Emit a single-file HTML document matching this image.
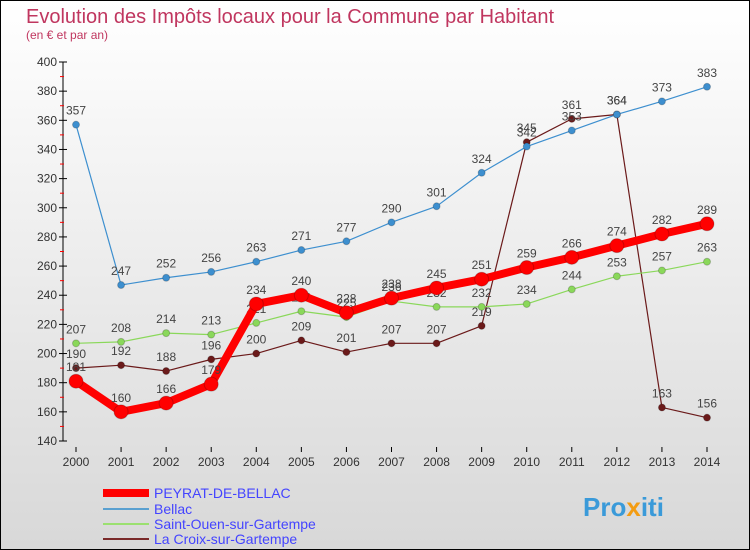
<!DOCTYPE html>
<html><head><meta charset="utf-8"><style>
body{margin:0}
#c{position:relative;width:748px;height:548px;border:1px solid #000;background:linear-gradient(#fff,#d8d8d8);font-family:"Liberation Sans",sans-serif;overflow:hidden}
</style></head><body>
<div id="c">
<svg id="s" width="748" height="548" xmlns="http://www.w3.org/2000/svg">
<text x="25" y="22" font-size="20" fill="#c0365f">Evolution des Impôts locaux pour la Commune par Habitant</text>
<text x="25" y="38" font-size="12" fill="#c0365f">(en € et par an)</text>
<g id="axes"></g><g id="series"></g>
<g>
<line x1="102" y1="492" x2="148" y2="492" stroke="#f00" stroke-width="8"/>
<text x="153" y="497" font-size="14" fill="#44f">PEYRAT-DE-BELLAC</text>
<line x1="102" y1="508" x2="148" y2="508" stroke="#5aa0d0" stroke-width="2"/>
<text x="153" y="513" font-size="14" fill="#44f">Bellac</text>
<line x1="102" y1="523" x2="148" y2="523" stroke="#9be070" stroke-width="2"/>
<text x="153" y="528" font-size="14" fill="#44f">Saint-Ouen-sur-Gartempe</text>
<line x1="102" y1="538" x2="148" y2="538" stroke="#7a2a2a" stroke-width="2"/>
<text x="153" y="543" font-size="14" fill="#44f">La Croix-sur-Gartempe</text>
</g>
<text x="582" y="515" font-size="26" font-weight="bold" fill="#3a9ad9">Pro<tspan fill="#f39c12">x</tspan>iti</text>
</svg>
</div>
<script>
const years=[2000,2001,2002,2003,2004,2005,2006,2007,2008,2009,2010,2011,2012,2013,2014];
const yTicks=[140,160,180,200,220,240,260,280,300,320,340,360,380,400];
const peyrat=[181,160,166,179,234,240,228,238,245,251,259,266,274,282,289];
const bellac=[357,247,252,256,263,271,277,290,301,324,342,353,364,373,383];
const saintOuen=[207,208,214,213,221,229,225,236,232,232,234,244,253,257,263];
const laCroix=[190,192,188,196,200,209,201,207,207,219,345,361,364,163,156];
const NS="http://www.w3.org/2000/svg";
const X=i=>75+i*(706-75)/(years.length-1);
const Y=v=>440-(v-140)*(440-61)/260;
function mk(t,a,p){const e=document.createElementNS(NS,t);for(const k in a)e.setAttribute(k,a[k]);p.appendChild(e);return e;}
const ax=document.getElementById('axes');
const yl=mk('line',{x1:62,y1:61,x2:62,y2:440,stroke:'#000'},ax);


yTicks.forEach((v,i)=>{
  mk('line',{x1:58,x2:66,y1:Y(v),y2:Y(v),stroke:'#000'},ax);
  if(i<yTicks.length-1)mk('line',{x1:59,x2:63,y1:Y(v+10),y2:Y(v+10),stroke:'#f00'},ax);
  const t=mk('text',{x:56,y:Y(v)+4,'font-size':12,'text-anchor':'end',fill:'#333'},ax);t.textContent=v;
  
  
});
years.forEach((y,i)=>{
  mk('line',{x1:X(i),x2:X(i),y1:446,y2:451,stroke:'#000'},ax);
  const t=mk('text',{x:X(i),y:465,'font-size':12,'text-anchor':'middle',fill:'#333'},ax);t.textContent=y;
  
  
});
const sg=document.getElementById('series');
function draw(vals,col,w,r,name){
  const g=mk('g',{},sg);
  
  
  mk('polyline',{points:vals.map((v,i)=>X(i)+','+Y(v)).join(' '),fill:'none',stroke:col,'stroke-width':w,'stroke-linejoin':'round'},g);
  vals.forEach((v,i)=>{
    const c=mk('circle',{cx:X(i),cy:Y(v),r:r,fill:col,stroke:'rgba(0,0,0,0.2)'},g);
    
    
    const t=mk('text',{x:X(i),y:Y(v)-10,'font-size':12,'text-anchor':'middle',fill:'#444'},g);t.textContent=v;
    
    
  });
}
draw(laCroix,'#6b1a1a',1.2,3.5,'series-la-croix');
draw(saintOuen,'#8ad85a',1.2,3.5,'series-saint-ouen');
draw(bellac,'#3d8fcf',1.2,3.5,'series-bellac');
draw(peyrat,'#f00',8,7,'series-peyrat');
</script>
</body></html>
